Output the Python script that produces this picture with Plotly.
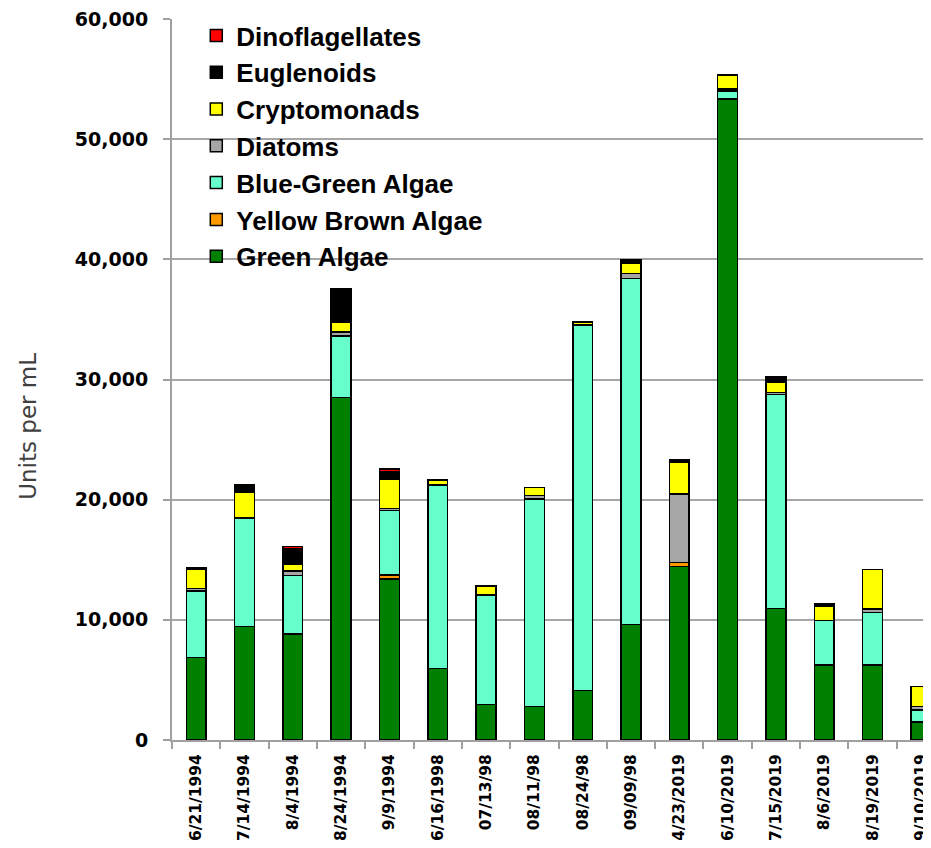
import plotly.graph_objects as go

dates = ["6/21/1994", "7/14/1994", "8/4/1994", "8/24/1994", "9/9/1994",
         "6/16/1998", "07/13/98", "08/11/98", "08/24/98", "09/09/98",
         "4/23/2019", "6/10/2019", "7/15/2019", "8/6/2019", "8/19/2019", "9/10/2019"]

green_algae = [6880, 9430, 8820, 28510, 13400, 5970, 2970, 2800, 4130, 9630,
               14420, 53330, 10960, 6240, 6240, 1500]
yellow_brown = [0, 0, 0, 0, 330, 0, 0, 0, 0, 0, 360, 0, 0, 0, 0, 0]
blue_green = [5540, 8990, 4850, 5100, 5350, 15250, 9090, 17250, 30400, 28780,
              0, 660, 17800, 3720, 4380, 1000]
diatoms = [200, 60, 390, 360, 170, 60, 0, 280, 0, 420, 5690, 170, 140, 0, 280, 270]
cryptomonads = [1580, 2160, 550, 830, 2490, 310, 700, 690, 250, 820, 2660, 1170,
                910, 1190, 3300, 1670]
euglenoids = [170, 610, 1280, 2700, 560, 100, 110, 0, 0, 340, 170, 0, 420, 170, 0, 0]
dinoflagellates = [0, 0, 220, 80, 250, 0, 0, 0, 0, 0, 0, 0, 0, 0, 0, 0]

series = [
    ("Green Algae", green_algae, "#008000"),
    ("Yellow Brown Algae", yellow_brown, "#FF9900"),
    ("Blue-Green Algae", blue_green, "#66FFCC"),
    ("Diatoms", diatoms, "#A6A6A6"),
    ("Cryptomonads", cryptomonads, "#FFFF00"),
    ("Euglenoids", euglenoids, "#000000"),
    ("Dinoflagellates", dinoflagellates, "#FF0000"),
]

fig = go.Figure()
for name, vals, color in series:
    fig.add_trace(go.Bar(
        x=dates, y=vals, name=name,
        marker=dict(color=color, line=dict(color="#000000", width=1.5)),
    ))

# page body has an 8px default margin, so the figure is sized to fit the 931x848 window
fig.update_layout(
    width=923, height=832,
    margin=dict(l=164, r=0, t=11, b=100),
    barmode="stack", bargap=0.59,
    plot_bgcolor="white", paper_bgcolor="white",
    showlegend=True,
    legend=dict(
        x=0.032, y=1.0097, xanchor="left", yanchor="top",
        bgcolor="rgba(0,0,0,0)", traceorder="reversed",
        font=dict(family="Liberation Sans, Arial, sans-serif", size=26, color="#000000",
                  weight="bold"),
    ),
    xaxis=dict(
        type="category", range=[-0.5, 15.21],
        tickson="boundaries", ticks="outside", ticklen=7, tickcolor="#A0A0A0", tickwidth=1.5,
        showline=True, linecolor="#A0A0A0", linewidth=2,
        tickangle=-90, ticklabelstandoff=6, ticklabeloverflow="allow",
        tickfont=dict(family="DejaVu Sans, sans-serif", size=15.5, color="#000000", weight="bold"),
        showgrid=False,
    ),
    yaxis=dict(
        range=[0, 60000], tickvals=[0, 10000, 20000, 30000, 40000, 50000, 60000],
        tickformat=",d",
        ticks="outside", ticklen=7, tickcolor="#A0A0A0", tickwidth=1.5,
        ticklabelstandoff=11, ticklabeloverflow="allow",
        showline=True, linecolor="#A0A0A0", linewidth=2,
        showgrid=True, gridcolor="#A6A6A6", gridwidth=1.5,
        tickfont=dict(family="DejaVu Sans, sans-serif", size=19, color="#000000", weight="bold"),
        zeroline=False,
    ),
    annotations=[dict(
        text="Units per mL", textangle=-90,
        xref="paper", yref="paper", x=-0.19, y=0.4355,
        xanchor="center", yanchor="middle", showarrow=False,
        font=dict(family="DejaVu Sans, sans-serif", size=23, color="#404040"),
    )],
)

fig.write_html("out.html")
